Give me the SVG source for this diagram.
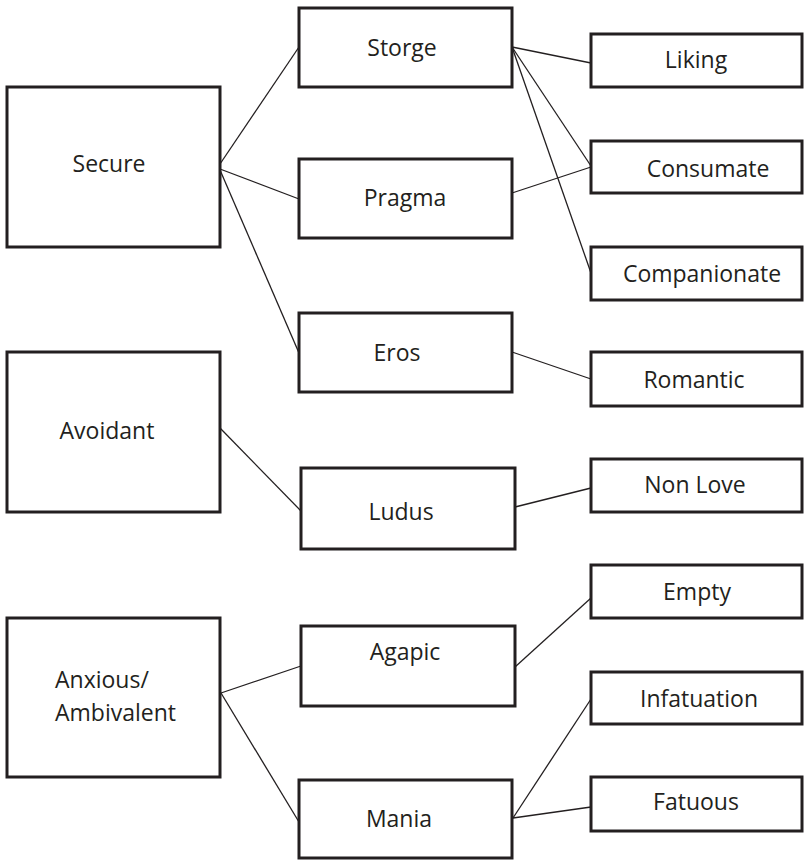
<svg xmlns="http://www.w3.org/2000/svg" width="804" height="860" viewBox="0 0 804 860">
<style>
.box{fill:#ffffff;stroke:#231f20;stroke-width:3}
.lbl{font-family:"Open Sans","Noto Sans","Liberation Sans",sans-serif;font-size:23px;fill:#231f20;text-anchor:middle}
.lbl-l{font-family:"Open Sans","Noto Sans","Liberation Sans",sans-serif;font-size:23px;fill:#231f20}
.conn line{stroke:#231f20;stroke-width:1.3;fill:none}
</style>
<rect width="804" height="860" fill="#ffffff"/>
<g class="conn" id="connectors">
<line x1="220" y1="164" x2="299" y2="47"/>
<line x1="220" y1="169" x2="299" y2="199"/>
<line x1="220" y1="170" x2="299" y2="353"/>
<line x1="512" y1="47" x2="591" y2="63"/>
<line x1="512" y1="47" x2="591" y2="166"/>
<line x1="512" y1="47" x2="591" y2="273"/>
<line x1="512" y1="193" x2="591" y2="167"/>
<line x1="512" y1="352" x2="591" y2="379"/>
<line x1="220" y1="428" x2="301" y2="511"/>
<line x1="515" y1="507" x2="591" y2="488"/>
<line x1="221" y1="693" x2="301" y2="666"/>
<line x1="221" y1="693" x2="299" y2="822"/>
<line x1="515" y1="667" x2="591" y2="598"/>
<line x1="513" y1="818" x2="591" y2="699"/>
<line x1="513" y1="818" x2="591" y2="807"/>
</g>
<g id="secure"><rect class="box" x="7" y="87" width="213" height="160"/><text class="lbl" x="109" y="172">Secure</text></g>
<g id="avoidant"><rect class="box" x="7" y="352" width="213" height="160"/><text class="lbl" x="107" y="439">Avoidant</text></g>
<g id="anxious"><rect class="box" x="7" y="618" width="213" height="159"/><text class="lbl-l" x="55" y="688">Anxious/</text><text class="lbl-l" x="55" y="721">Ambivalent</text></g>
<g id="storge"><rect class="box" x="299" y="8" width="213" height="79"/><text class="lbl" x="402" y="56">Storge</text></g>
<g id="pragma"><rect class="box" x="299" y="159" width="213" height="79"/><text class="lbl" x="405" y="206">Pragma</text></g>
<g id="eros"><rect class="box" x="299" y="313" width="213" height="79"/><text class="lbl" x="397" y="361">Eros</text></g>
<g id="ludus"><rect class="box" x="301" y="468" width="214" height="81"/><text class="lbl" x="401" y="520">Ludus</text></g>
<g id="agapic"><rect class="box" x="301" y="626" width="214" height="80"/><text class="lbl" x="405" y="660">Agapic</text></g>
<g id="mania"><rect class="box" x="299" y="780" width="213" height="78"/><text class="lbl" x="399" y="827">Mania</text></g>
<g id="liking"><rect class="box" x="591" y="34" width="211" height="53"/><text class="lbl" x="696" y="68">Liking</text></g>
<g id="consumate"><rect class="box" x="591" y="141" width="211" height="52"/><text class="lbl" x="708" y="177">Consumate</text></g>
<g id="companionate"><rect class="box" x="591" y="247" width="211" height="53"/><text class="lbl" x="702" y="282">Companionate</text></g>
<g id="romantic"><rect class="box" x="591" y="352" width="211" height="54"/><text class="lbl" x="694" y="388">Romantic</text></g>
<g id="nonlove"><rect class="box" x="591" y="459" width="211" height="53"/><text class="lbl" x="695" y="493">Non Love</text></g>
<g id="empty"><rect class="box" x="591" y="565" width="211" height="53"/><text class="lbl" x="697" y="600">Empty</text></g>
<g id="infatuation"><rect class="box" x="591" y="672" width="211" height="52"/><text class="lbl" x="699" y="707">Infatuation</text></g>
<g id="fatuous"><rect class="box" x="591" y="777" width="211" height="54"/><text class="lbl" x="696" y="810">Fatuous</text></g>
</svg>
